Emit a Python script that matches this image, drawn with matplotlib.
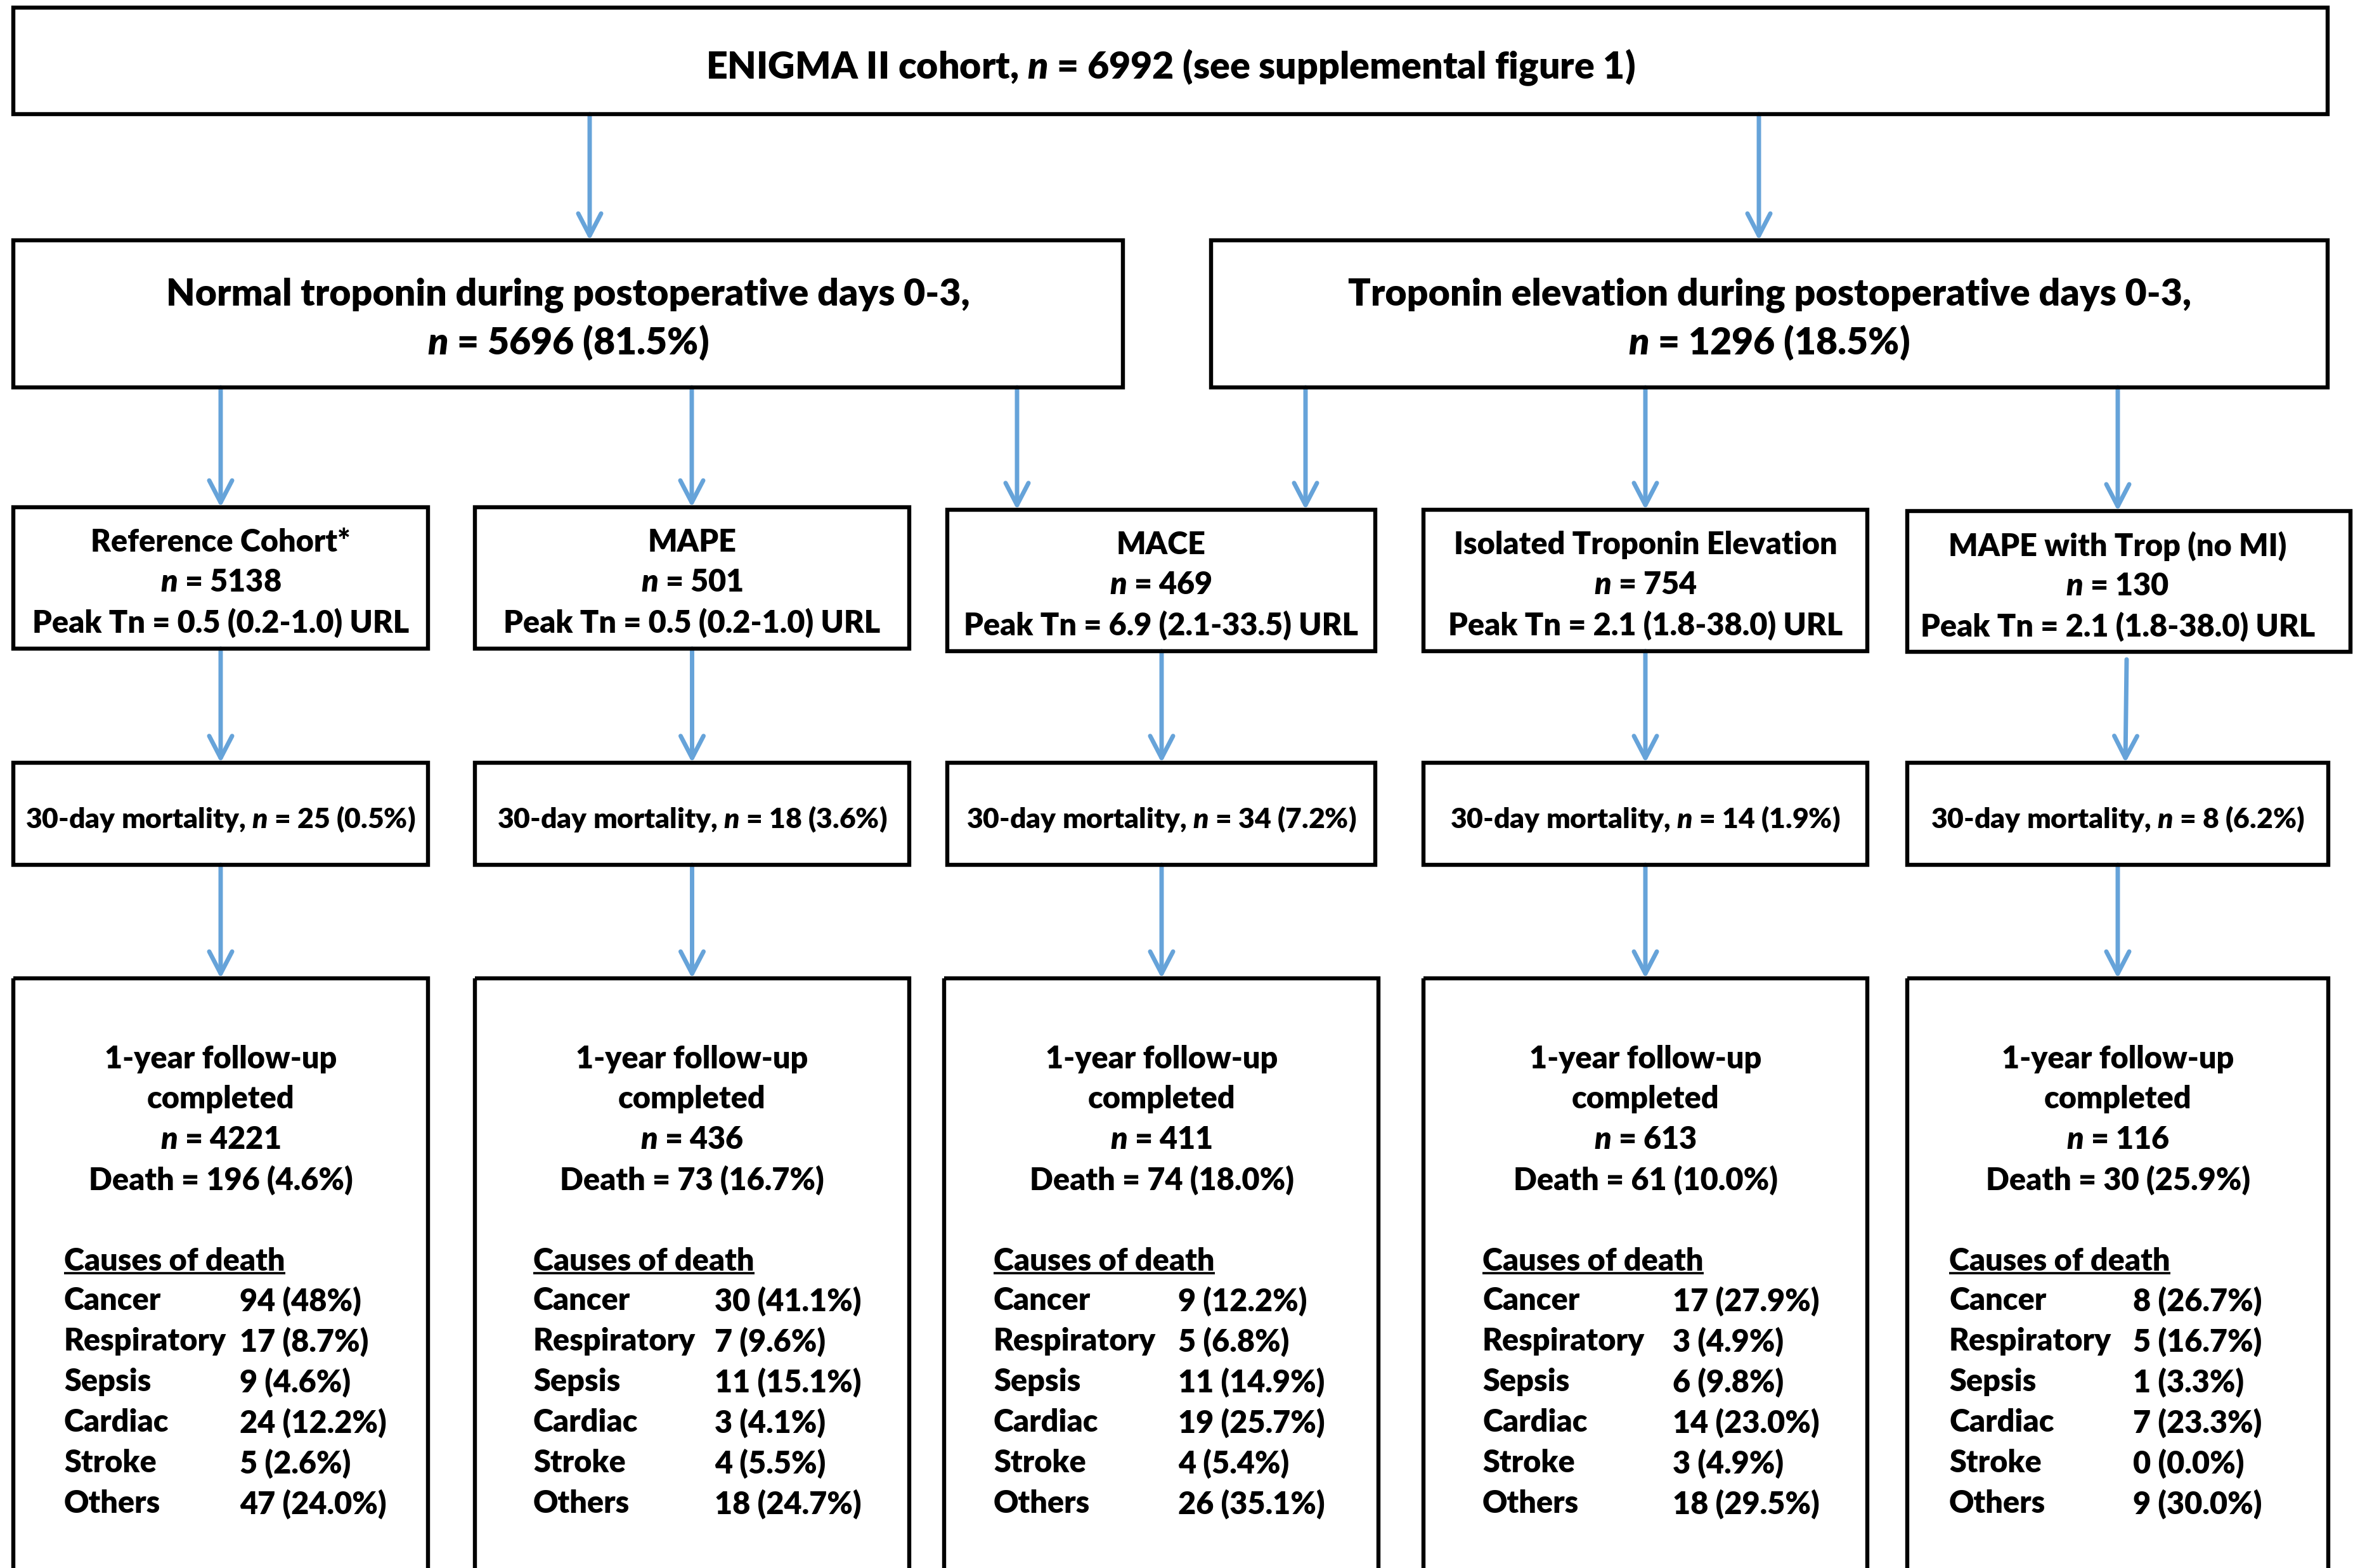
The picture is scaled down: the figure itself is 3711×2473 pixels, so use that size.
import matplotlib
matplotlib.use('Agg')
import matplotlib.pyplot as plt
from matplotlib.patches import Rectangle, FancyArrowPatch

# fonts (Calibri-like look with heavy Lato, italic n through mathtext)
plt.rcParams['font.family'] = ['Lato', 'DejaVu Sans']
plt.rcParams['font.weight'] = 'heavy'
plt.rcParams['mathtext.fontset'] = 'custom'
plt.rcParams['mathtext.rm'] = 'Lato:heavy'
plt.rcParams['mathtext.it'] = 'Lato:italic:heavy'
plt.rcParams['mathtext.bf'] = 'Lato:heavy'

# ---------------- data ----------------
cohort_n = 6992

group_labels = ['Normal troponin during postoperative days 0-3,',
                'Troponin elevation during postoperative days 0-3,']
group_n = [5696, 1296]
group_pct = ['81.5%', '18.5%']

sub_labels = ['Reference Cohort*', 'MAPE', 'MACE',
              'Isolated Troponin Elevation', 'MAPE with Trop (no MI)']
sub_n = [5138, 501, 469, 754, 130]
peak_tn = ['0.5 (0.2-1.0)', '0.5 (0.2-1.0)', '6.9 (2.1-33.5)',
           '2.1 (1.8-38.0)', '2.1 (1.8-38.0)']

mort30_n = [25, 18, 34, 14, 8]
mort30_pct = ['0.5%', '3.6%', '7.2%', '1.9%', '6.2%']

fu_n = [4221, 436, 411, 613, 116]
fu_death = [196, 73, 74, 61, 30]
fu_death_pct = ['4.6%', '16.7%', '18.0%', '10.0%', '25.9%']

causes = ['Cancer', 'Respiratory', 'Sepsis', 'Cardiac', 'Stroke', 'Others']
cause_n = [[94, 17, 9, 24, 5, 47],
           [30, 7, 11, 3, 4, 18],
           [9, 5, 11, 19, 4, 26],
           [17, 3, 6, 14, 3, 18],
           [8, 5, 1, 7, 0, 9]]
cause_pct = [['48%', '8.7%', '4.6%', '12.2%', '2.6%', '24.0%'],
             ['41.1%', '9.6%', '15.1%', '4.1%', '5.5%', '24.7%'],
             ['12.2%', '6.8%', '14.9%', '25.7%', '5.4%', '35.1%'],
             ['27.9%', '4.9%', '9.8%', '23.0%', '4.9%', '29.5%'],
             ['26.7%', '16.7%', '3.3%', '23.3%', '0.0%', '30.0%']]

# ---------------- layout (pixels) ----------------
W, H = 3711, 2473
blue = '#66a3d9'
blw = 4.6     # box edge width
alw = 5.0     # arrow width
big = 42.5
small = 35
mid = 32      # 30-day mortality row is set a little smaller

top_box = (21, 12, 3671, 180)
grp_box = [(21, 379, 1771, 611), (1910, 379, 3671, 611)]
row3_x = [(21, 675), (749, 1434), (1494, 2169), (2245, 2945), (3008, 3707)]
row3_y = [(800, 1023), (800, 1023), (804, 1027), (804, 1027), (806, 1028)]
row4_x = [(21, 675), (749, 1434), (1494, 2169), (2245, 2945), (3008, 3672)]
row4_y = (1203, 1364)
row5_x = [(21, 675), (749, 1434), (1489, 2174), (2245, 2945), (3008, 3672)]
row5_top = 1543
lab_off = [80, 92, 78, 93, 66]
val_off = [357, 378, 369, 393, 356]

fig = plt.figure(figsize=(W / 100, H / 100), dpi=100)
ax = fig.add_axes([0, 0, 1, 1])
ax.set_xlim(0, W)
ax.set_ylim(H, 0)
ax.axis('off')


def box(x0, y0, x1, y1):
    ax.add_patch(Rectangle((x0, y0), x1 - x0, y1 - y0, fill=False,
                           edgecolor='black', linewidth=blw, zorder=3))


def arrow(x0, y0, x1, y1):
    ax.add_patch(FancyArrowPatch((x0, y0), (x1, y1),
                                 arrowstyle='->,head_length=1.25,head_width=0.65',
                                 mutation_scale=20, color=blue, linewidth=alw,
                                 shrinkA=0, shrinkB=0, zorder=2))


def txt(x, y, s, size, ha='center'):
    return ax.text(x, y, s, fontsize=size, ha=ha, va='center_baseline',
                   fontweight='heavy', zorder=4)


# top box
box(*top_box)
txt((top_box[0] + top_box[2]) / 2, 100,
    'ENIGMA II cohort, $n$ = %d (see supplemental figure 1)' % cohort_n, big)

# group boxes
for i, b in enumerate(grp_box):
    box(*b)
    cx = (b[0] + b[2]) / 2
    txt(cx, 459, group_labels[i], big)
    txt(cx, 535, '$n$ = %d (%s)' % (group_n[i], group_pct[i]), big)

arrow(930, 180, 930, 379)
arrow(2774, 180, 2774, 379)

# arrows from groups to subgroups
arrow(348, 611, 348, 800)
arrow(1091, 611, 1091, 800)
arrow(1604, 611, 1604, 804)
arrow(2059, 611, 2059, 804)
arrow(2595, 611, 2595, 804)
arrow(3340, 611, 3340, 806)

# subgroup rows
for i in range(5):
    x0, x1 = row3_x[i]
    y0, y1 = row3_y[i]
    box(x0, y0, x1, y1)
    cx = (row4_x[i][0] + row4_x[i][1]) / 2
    dy = y0 - 800
    tx = (x0 + x1) / 2 if i < 4 else cx
    txt(tx, 851 + dy, sub_labels[i], small)
    txt(tx, 914 + dy, '$n$ = %d' % sub_n[i], small)
    txt(tx, 978 + dy, 'Peak Tn = %s URL' % peak_tn[i], small)

    # 30-day mortality
    box(row4_x[i][0], row4_y[0], row4_x[i][1], row4_y[1])
    txt(cx, 1288, '30-day mortality, $n$ = %d (%s)' % (mort30_n[i], mort30_pct[i]), mid)

    # arrows between rows
    if i == 2:
        cx3 = 1832
    else:
        cx3 = cx
    if i == 4:
        arrow(3354, 1040, 3352, row4_y[0])
    else:
        arrow(cx3, y1, cx3, row4_y[0])
    arrow(cx3, row4_y[1], cx3, row5_top)

    # 1-year follow-up (box runs past the bottom edge)
    bx0, bx1 = row5_x[i]
    box(bx0, row5_top, bx1, H + 100)
    txt(cx3, 1666, '1-year follow-up', small)
    txt(cx3, 1729, 'completed', small)
    txt(cx3, 1793, '$n$ = %d' % fu_n[i], small)
    txt(cx3, 1857, 'Death = %d (%s)' % (fu_death[i], fu_death_pct[i]), small)

    t = txt(bx0 + lab_off[i], 1985, 'Causes of death', small, ha='left')
    fig.canvas.draw()
    bb = t.get_window_extent(fig.canvas.get_renderer())
    ax.plot([bx0 + lab_off[i], bx0 + lab_off[i] + bb.width], [2008, 2008],
            color='black', linewidth=2.6, solid_capstyle='butt', zorder=4)

    for j, c in enumerate(causes):
        y = 2048 + j * 64
        txt(bx0 + lab_off[i], y, c, small, ha='left')
        txt(bx0 + val_off[i], y, '%d (%s)' % (cause_n[i][j], cause_pct[i][j]),
            small, ha='left')

fig.savefig('out.png', dpi=100)
